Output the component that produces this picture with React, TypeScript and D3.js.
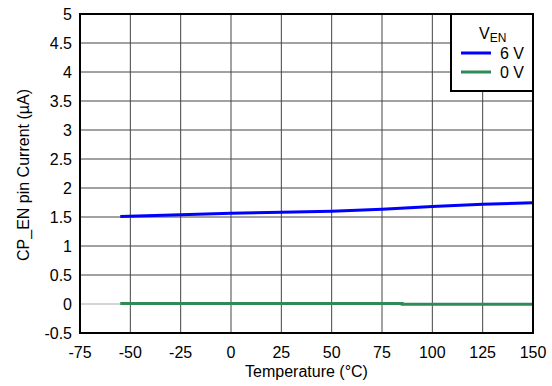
import React from "react";
import * as d3 from "d3";

const temps6V = [-55, -25, 0, 25, 50, 75, 100, 125, 150];
const current6V = [1.51, 1.54, 1.564, 1.58, 1.6, 1.633, 1.68, 1.72, 1.745];
const temps0V = [-55, 85, 85, 150];
const current0V = [0.008, 0.008, -0.006, -0.006];
const xTicks = [-75, -50, -25, 0, 25, 50, 75, 100, 125, 150];
const yTicks = [-0.5, 0, 0.5, 1, 1.5, 2, 2.5, 3, 3.5, 4, 4.5, 5];
const legendItems = ["6 V", "0 V"];
const legendColors = ["#0000ff", "#2e8b57"];

export default function App() {
  const W = 552, H = 386;
  const left = 80, right = 533, top = 14, bottom = 333;
  const x = d3.scaleLinear().domain([-75, 150]).range([left, right]);
  const y = d3.scaleLinear().domain([-0.5, 5]).range([bottom, top]);
  const line = d3.line<[number, number]>().x(d => x(d[0])).y(d => y(d[1]));
  const d6 = line(temps6V.map((t, i) => [t, current6V[i]]) as [number, number][]) || "";
  const d0 = line(temps0V.map((t, i) => [t, current0V[i]]) as [number, number][]) || "";
  const font = "Liberation Sans, Arial, sans-serif";
  const lx = 451, ly = top, lw = right - 451, lh = 77;
  return (
    <svg width={W} height={H} style={{ position: "absolute", left: 0, top: 0, background: "#fff" }}>
      <rect x={0} y={0} width={W} height={H} fill="#fff" />
      {xTicks.slice(1, -1).map(t => (
        <line key={"gx" + t} x1={x(t)} x2={x(t)} y1={top} y2={bottom} stroke="#444" strokeWidth={1} />
      ))}
      {yTicks.slice(1, -1).map(t => (
        <line key={"gy" + t} x1={left} x2={right} y1={y(t)} y2={y(t)} stroke={t === 0 ? "#aaa" : "#444"} strokeWidth={1} />
      ))}
      <path d={d0} fill="none" stroke={legendColors[1]} strokeWidth={3} />
      <path d={d6} fill="none" stroke={legendColors[0]} strokeWidth={3} />
      <rect x={left} y={top} width={right - left} height={bottom - top} fill="none" stroke="#000" strokeWidth={2} />
      {xTicks.map(t => (
        <text key={"tx" + t} x={x(t)} y={bottom + 25} textAnchor="middle" fontFamily={font} fontSize={16} fill="#000">{t}</text>
      ))}
      {yTicks.map(t => (
        <text key={"ty" + t} x={left - 8} y={y(t) + 6} textAnchor="end" fontFamily={font} fontSize={16} fill="#000">{t}</text>
      ))}
      <text x={(left + right) / 2} y={377} textAnchor="middle" fontFamily={font} fontSize={16} fill="#000">Temperature (°C)</text>
      <text transform={`translate(29,175) rotate(-90)`} textAnchor="middle" fontFamily={font} fontSize={16} fill="#000">CP_EN pin Current (µA)</text>
      <rect x={lx} y={ly} width={lw} height={lh} fill="#fff" stroke="#000" strokeWidth={2} />
      <text x={479} y={39} fontFamily={font} fontSize={16} fill="#000">V<tspan fontSize={12} dy={3}>EN</tspan></text>
      {legendItems.map((s, i) => (
        <g key={s}>
          <line x1={461} x2={491} y1={53 + i * 19} y2={53 + i * 19} stroke={legendColors[i]} strokeWidth={3} />
          <text x={500} y={59 + i * 19} fontFamily={font} fontSize={16} fill="#000">{s}</text>
        </g>
      ))}
    </svg>
  );
}
